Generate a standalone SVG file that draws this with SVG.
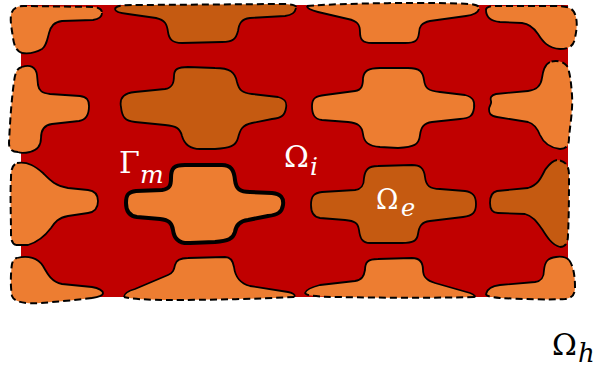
<svg xmlns="http://www.w3.org/2000/svg" width="597" height="371" viewBox="0 0 597 371">
<style>
.lt{fill:#ED7D31;stroke:none}
.dk{fill:#C55A11;stroke:none}
.sl{fill:none;stroke:#000;stroke-width:1.8;stroke-linejoin:round}
.ds{fill:none;stroke:#000;stroke-width:2;stroke-dasharray:7 4}
.th{fill:none;stroke:#000;stroke-width:4;stroke-linejoin:round}
.lbl{font-family:"DejaVu Serif","Liberation Serif",serif;fill:#fff}
.it{font-style:italic}
</style>
<rect id="domain" x="21" y="5" width="547" height="292" fill="#C00000"/>
<g id="cellA">
<path class="lt" d="M102,13 C102,17 99,19 93,20 L62,21 C54,22 51,26 49,33 C47,41 46,46 42,49 C37,52 30,54 22,53 C16,51 14,45 13,38 C12,30 10,22 11,15 C12,9 16,6 24,6 L95,7 C100,8 102,10 102,13 Z"/>
<path class="sl" d="M102,13 C102,17 99,19 93,20 L62,21 C54,22 51,26 49,33 C47,41 46,46 42,49 C37,52 30,54 22,53"/>
<path class="ds" d="M22,53 C16,51 14,45 13,38 C12,30 10,22 11,15 C12,9 16,6 24,6 L95,7 C100,8 102,10 102,13"/>
</g>
<g id="cellB">
<path class="dk" d="M296,8 C295,13 292,15 285,16 L250,18 C241,19 239,24 238,31 C236,39 233,42 222,42 L182,43 C172,43 169,39 168,32 C167,24 165,20 156,18 L128,14 C119,13 115,11 115,9 C116,5 125,5 140,5 L280,4 C292,4 297,5 296,8 Z"/>
<path class="sl" d="M296,8 C295,13 292,15 285,16 L250,18 C241,19 239,24 238,31 C236,39 233,42 222,42 L182,43 C172,43 169,39 168,32 C167,24 165,20 156,18 L128,14 C119,13 115,11 115,9"/>
<path class="ds" d="M115,9 C116,5 125,5 140,5 L280,4 C292,4 297,5 296,8"/>
</g>
<g id="cellC">
<path class="lt" d="M479,9 C478,13 474,15 466,16 L430,21 C421,23 419,27 419,33 C418,41 415,43 405,43 L372,43 C362,43 360,39 360,32 C360,24 357,21 348,19 L318,12 C310,10 307,8 307,6 C340,3 440,2 470,4 C478,5 480,7 479,9 Z"/>
<path class="sl" d="M479,9 C478,13 474,15 466,16 L430,21 C421,23 419,27 419,33 C418,41 415,43 405,43 L372,43 C362,43 360,39 360,32 C360,24 357,21 348,19 L318,12 C310,10 307,8 307,6"/>
<path class="ds" d="M307,6 C340,3 440,2 470,4 C478,5 480,7 479,9"/>
</g>
<g id="cellD">
<path class="lt" d="M486,10 C486,16 490,21 500,22 L522,23 C530,24 534,28 538,34 C543,42 548,48 560,49 C570,49 574,45 575,38 C577,28 578,20 574,12 C571,7 565,6 555,6 L495,6 C488,6 486,8 486,10 Z"/>
<path class="sl" d="M486,10 C486,16 490,21 500,22 L522,23 C530,24 534,28 538,34 C543,42 548,48 560,49"/>
<path class="ds" d="M560,49 C570,49 574,45 575,38 C577,28 578,20 574,12 C571,7 565,6 555,6 L495,6 C488,6 486,8 486,10"/>
</g>
<g id="cellE">
<path class="lt" d="M22,67 C30,64 36,67 37,75 L38,85 C39,91 42,93 50,94 L80,96 C87,97 89,100 89,106 C89,115 86,120 79,121 L52,124 C44,125 41,130 41,138 C41,145 38,150 30,152 C25,153 20,153 18,152 C12,152 9,149 9,143 C10,120 12,95 14,82 C15,73 17,68 22,67 Z"/>
<path class="sl" d="M22,67 C30,64 36,67 37,75 L38,85 C39,91 42,93 50,94 L80,96 C87,97 89,100 89,106 C89,115 86,120 79,121 L52,124 C44,125 41,130 41,138 C41,145 38,150 30,152 C25,153 20,153 18,152"/>
<path class="ds" d="M18,152 C12,152 9,149 9,143 C10,120 12,95 14,82 C15,73 17,68 22,67"/>
</g>
<g id="cellF">
<path class="dk" d="M121,107 C119,97 125,93 135,92 L165,89 C173,88 174,82 174,76 C174,69 178,67 188,67 L215,68 C230,68 235,72 237,82 C239,90 242,93 252,94 L278,97 C286,99 287,103 286,108 C285,115 282,118 272,119 L252,123 C242,125 240,130 238,138 C236,146 230,148 215,149 L200,149 C188,149 184,143 182,136 C180,128 176,126 165,125 L135,122 C125,121 122,117 121,107 Z"/>
<path class="sl" d="M121,107 C119,97 125,93 135,92 L165,89 C173,88 174,82 174,76 C174,69 178,67 188,67 L215,68 C230,68 235,72 237,82 C239,90 242,93 252,94 L278,97 C286,99 287,103 286,108 C285,115 282,118 272,119 L252,123 C242,125 240,130 238,138 C236,146 230,148 215,149 L200,149 C188,149 184,143 182,136 C180,128 176,126 165,125 L135,122 C125,121 122,117 121,107 Z"/>
</g>
<g id="cellG">
<path class="lt" d="M312,106 C312,98 316,96 325,95 L355,91 C362,90 363,85 363,78 C364,71 368,68 380,68 L408,68 C420,68 423,72 424,80 C425,88 428,91 440,92 L465,95 C473,97 475,101 474,108 C473,116 470,118 460,119 L432,122 C424,123 421,127 420,135 C419,145 414,147 398,148 L380,147 C368,146 364,142 363,134 C362,126 358,123 348,122 L322,120 C314,119 312,114 312,106 Z"/>
<path class="sl" d="M312,106 C312,98 316,96 325,95 L355,91 C362,90 363,85 363,78 C364,71 368,68 380,68 L408,68 C420,68 423,72 424,80 C425,88 428,91 440,92 L465,95 C473,97 475,101 474,108 C473,116 470,118 460,119 L432,122 C424,123 421,127 420,135 C419,145 414,147 398,148 L380,147 C368,146 364,142 363,134 C362,126 358,123 348,122 L322,120 C314,119 312,114 312,106 Z"/>
</g>
<g id="cellH">
<path class="lt" d="M550,62 C544,65 543,72 542,78 C541,86 537,90 528,91 L496,94 C491,95 490,98 491,101 C492,104 489,106 489,109 C489,113 490,116 497,117 L528,122 C535,124 538,130 540,135 C544,144 552,148 560,149 C567,149 569,145 569,138 C570,125 573,110 572,95 C571,82 570,72 567,66 C563,61 556,60 550,62 Z"/>
<path class="sl" d="M550,62 C544,65 543,72 542,78 C541,86 537,90 528,91 L496,94 C491,95 490,98 491,101 C492,104 489,106 489,109 C489,113 490,116 497,117 L528,122 C535,124 538,130 540,135 C544,144 552,148 560,149"/>
<path class="ds" d="M560,149 C567,149 569,145 569,138 C570,125 573,110 572,95 C571,82 570,72 567,66 C563,61 556,60 550,62"/>
</g>
<g id="cellI">
<path class="lt" d="M17,163 C28,161 36,167 43,173 C50,180 55,186 68,188 L88,190 C96,191 98,196 98,201 C98,208 95,212 88,213 L68,216 C58,218 55,222 51,228 C45,236 38,242 28,245 L16,245 C12,244 11,240 11,233 C11,215 10,195 11,178 C11,170 12,165 17,163 Z"/>
<path class="sl" d="M17,163 C28,161 36,167 43,173 C50,180 55,186 68,188 L88,190 C96,191 98,196 98,201 C98,208 95,212 88,213 L68,216 C58,218 55,222 51,228 C45,236 38,242 28,245 L16,245"/>
<path class="ds" d="M16,245 C12,244 11,240 11,233 C11,215 10,195 11,178 C11,170 12,165 17,163"/>
</g>
<g id="cellJ">
<path class="lt" d="M126,203 C126,195 128,192 136,191 L162,190 C170,189 171,185 171,178 C171,168 174,165 185,165 L222,165 C231,165 234,170 235,180 C236,189 240,192 250,192 L272,193 C281,194 284,198 283,205 C282,212 278,215 268,216 L248,220 C240,221 236,225 235,232 C233,239 228,241 215,242 L190,243 C178,244 174,238 173,230 C172,223 169,220 160,219 L137,217 C129,216 126,211 126,203 Z"/>
<path class="th" d="M126,203 C126,195 128,192 136,191 L162,190 C170,189 171,185 171,178 C171,168 174,165 185,165 L222,165 C231,165 234,170 235,180 C236,189 240,192 250,192 L272,193 C281,194 284,198 283,205 C282,212 278,215 268,216 L248,220 C240,221 236,225 235,232 C233,239 228,241 215,242 L190,243 C178,244 174,238 173,230 C172,223 169,220 160,219 L137,217 C129,216 126,211 126,203 Z"/>
</g>
<g id="cellK">
<path class="dk" d="M311,205 C311,196 314,193 322,192 L355,190 C362,189 364,185 364,178 C365,170 368,166 378,166 L412,165 C420,165 424,168 425,177 C426,186 430,189 440,189 L465,191 C473,192 476,196 476,204 C476,212 473,216 463,217 L430,221 C421,222 419,227 418,234 C417,241 413,243 402,243 L370,243 C362,243 360,238 359,230 C358,223 355,221 345,220 L320,218 C313,217 311,212 311,205 Z"/>
<path class="sl" d="M311,205 C311,196 314,193 322,192 L355,190 C362,189 364,185 364,178 C365,170 368,166 378,166 L412,165 C420,165 424,168 425,177 C426,186 430,189 440,189 L465,191 C473,192 476,196 476,204 C476,212 473,216 463,217 L430,221 C421,222 419,227 418,234 C417,241 413,243 402,243 L370,243 C362,243 360,238 359,230 C358,223 355,221 345,220 L320,218 C313,217 311,212 311,205 Z"/>
</g>
<g id="cellL">
<path class="dk" d="M557,160 C551,161 548,166 545,170 C541,178 538,185 528,188 L497,191 C492,192 490,197 490,203 C490,209 492,213 498,213 L525,214 C533,216 537,222 542,229 C547,237 552,245 560,247 C566,247 568,242 568,235 C569,215 569,190 569,175 C569,166 566,161 557,160 Z"/>
<path class="sl" d="M557,160 C551,161 548,166 545,170 C541,178 538,185 528,188 L497,191 C492,192 490,197 490,203 C490,209 492,213 498,213 L525,214 C533,216 537,222 542,229 C547,237 552,245 560,247"/>
<path class="ds" d="M560,247 C566,247 568,242 568,235 C569,215 569,190 569,175 C569,166 566,161 557,160"/>
</g>
<g id="cellM">
<path class="lt" d="M17,258 C28,255 38,258 43,266 C48,275 52,282 62,284 L92,287 C99,288 103,291 103,293 C103,296 98,297 92,298 C75,300 55,302 40,303 C25,304 14,302 12,296 C10,285 11,270 12,264 C13,260 15,258 17,258 Z"/>
<path class="sl" d="M17,258 C28,255 38,258 43,266 C48,275 52,282 62,284 L92,287 C99,288 103,291 103,293 C103,296 98,297 92,298"/>
<path class="ds" d="M92,298 C75,300 55,302 40,303 C25,304 14,302 12,296 C10,285 11,270 12,264 C13,260 15,258 17,258"/>
</g>
<g id="cellN">
<path class="lt" d="M124,297 C124,293 128,291 135,289 L168,275 C173,273 174,270 175,265 C176,260 180,258 188,258 L225,257 C231,257 233,261 234,267 C235,275 238,283 250,286 L288,292 C293,293 296,295 294,297 C260,299 200,300 170,300 C150,300 130,299 124,297 Z"/>
<path class="sl" d="M124,297 C124,293 128,291 135,289 L168,275 C173,273 174,270 175,265 C176,260 180,258 188,258 L225,257 C231,257 233,261 234,267 C235,275 238,283 250,286 L288,292 C293,293 296,295 294,297"/>
<path class="ds" d="M294,297 C260,299 200,300 170,300 C150,300 130,299 124,297"/>
</g>
<g id="cellO">
<path class="lt" d="M305,293 C306,289 312,287 320,285 L355,281 C362,280 364,276 365,270 C365,262 368,259 378,259 L412,258 C420,258 423,262 423,270 C423,278 428,281 435,283 L470,293 C475,295 476,297 474,297 C440,298 380,298 340,297 C320,297 306,296 305,293 Z"/>
<path class="sl" d="M305,293 C306,289 312,287 320,285 L355,281 C362,280 364,276 365,270 C365,262 368,259 378,259 L412,258 C420,258 423,262 423,270 C423,278 428,281 435,283 L470,293 C475,295 476,297 474,297"/>
<path class="ds" d="M474,297 C440,298 380,298 340,297 C320,297 306,296 305,293"/>
</g>
<g id="cellP">
<path class="lt" d="M486,294 C487,289 492,286 500,285 L535,282 C542,281 544,277 544,270 C545,261 548,258 556,257 C563,256 566,257 569,260 C573,265 575,275 575,287 C575,295 572,298 565,299 C550,300 520,299 500,298 C490,297 486,296 486,294 Z"/>
<path class="sl" d="M486,294 C487,289 492,286 500,285 L535,282 C542,281 544,277 544,270 C545,261 548,258 556,257 C563,256 566,257 569,260"/>
<path class="ds" d="M569,260 C573,265 575,275 575,287 C575,295 572,298 565,299 C550,300 520,299 500,298 C490,297 486,296 486,294"/>
</g>
<g id="connectors"></g>
<g id="labels">
<text class="lbl" x="119" y="173" font-size="30">Γ</text>
<text class="lbl it" x="140" y="183" font-size="25">m</text>
<text class="lbl" x="284" y="167" font-size="30">Ω</text>
<text class="lbl it" x="310" y="175" font-size="25">i</text>
<text class="lbl" x="376" y="209" font-size="27">Ω</text>
<text class="lbl it" x="401" y="216" font-size="24">e</text>
<text class="lbl" x="552" y="355" font-size="30" style="fill:#000">Ω</text>
<text class="lbl it" x="578" y="362" font-size="26" style="fill:#000">h</text>
</g>
</svg>
